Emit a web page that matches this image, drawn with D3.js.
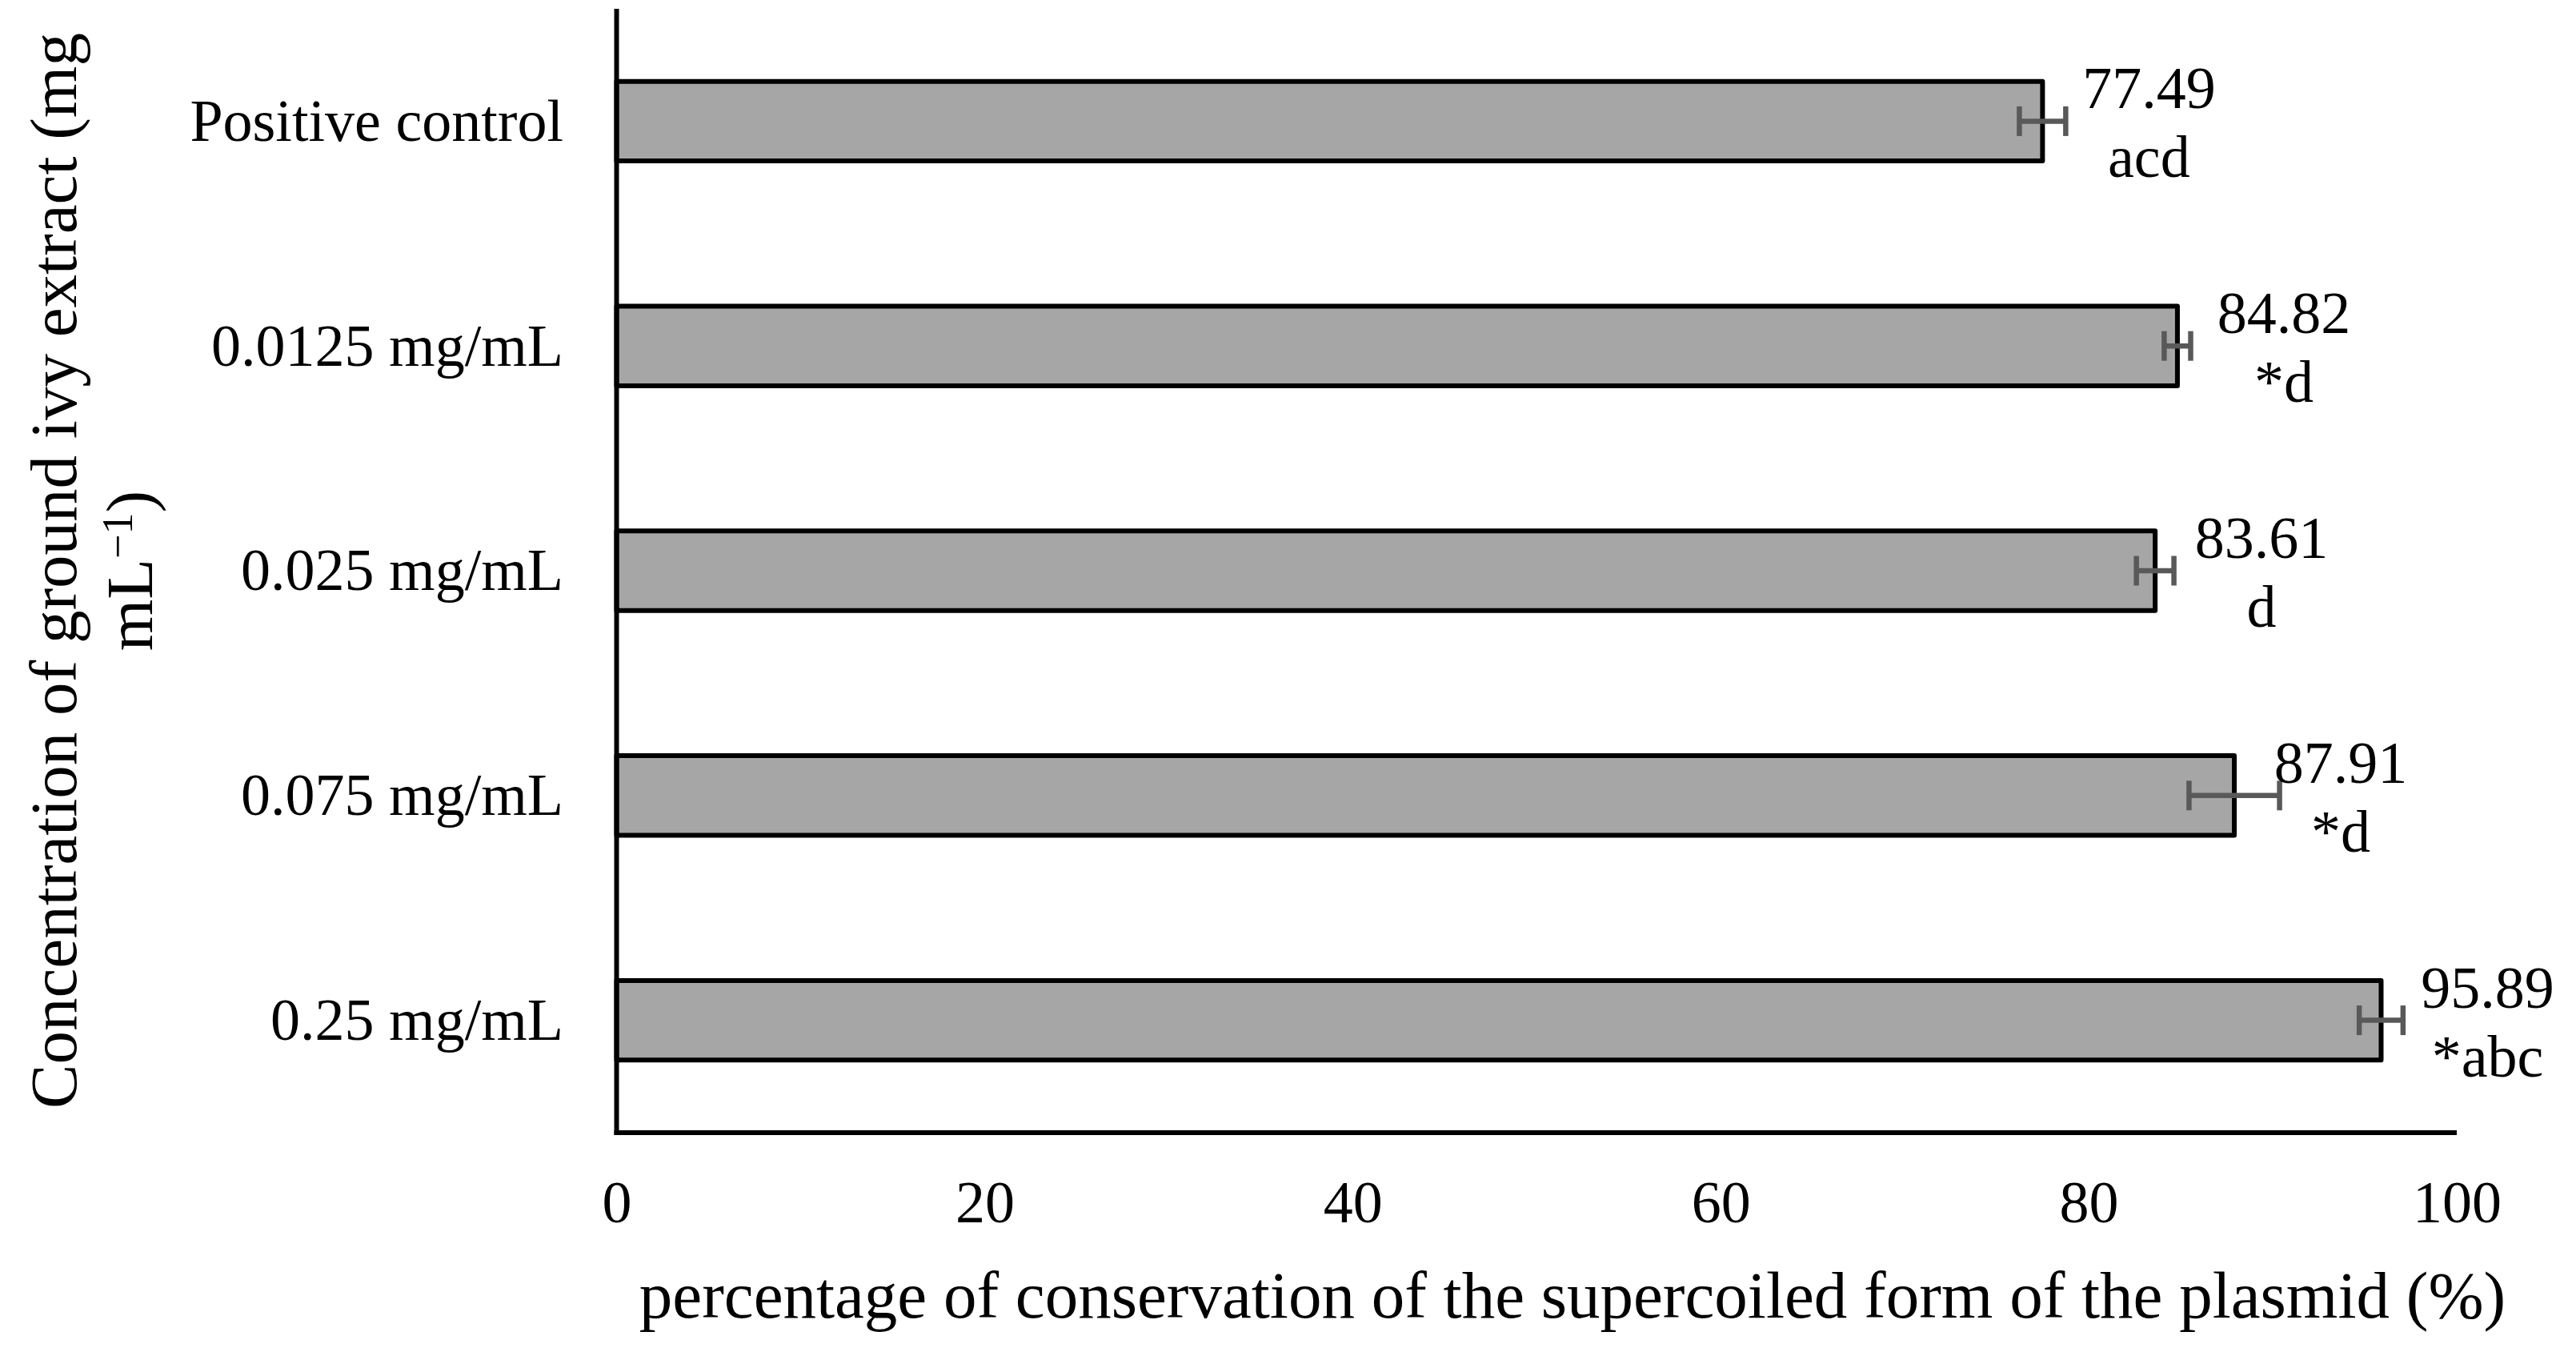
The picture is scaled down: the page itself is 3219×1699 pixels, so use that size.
<!DOCTYPE html>
<html>
<head>
<meta charset="utf-8">
<script src="https://cdn.jsdelivr.net/npm/d3@7"></script>
<style>
  html, body { margin: 0; padding: 0; background: #fff; }
  svg { display: block; }
  text { font-family: "Liberation Serif", "Times New Roman", serif; fill: #000; }
</style>
</head>
<body>
<svg id="chart" width="3219" height="1699"></svg>
<script>
const categories = ["Positive control", "0.0125 mg/mL", "0.025 mg/mL", "0.075 mg/mL", "0.25 mg/mL"];
const values = [77.49, 84.82, 83.61, 87.91, 95.89];
const errors = [1.26, 0.72, 1.02, 2.46, 1.19];
const letters = ["acd", "*d", "d", "*d", "*abc"];
const xTicks = [0, 20, 40, 60, 80, 100];
const xTitle = "percentage of conservation of the supercoiled form of the plasmid (%)";
const yTitleLine1 = "Concentration of ground ivy extract (mg";

const svg = d3.select("#chart");
const x0 = 770.5, x1 = 3070, yTop = 11, yBot = 1415;

const x = d3.scaleLinear().domain([0, 100]).range([x0, x1]);
const y = d3.scaleBand().domain(categories).range([yTop, yBot])
  .paddingInner(0.646).paddingOuter(0.323);

// bars
svg.append("g").selectAll("rect").data(values).join("rect")
  .attr("x", x(0))
  .attr("y", (d, i) => y(categories[i]))
  .attr("width", d => x(d) - x(0))
  .attr("height", y.bandwidth())
  .attr("fill", "#a6a6a6")
  .attr("stroke", "#000")
  .attr("stroke-width", 6)
  .attr("stroke-linejoin", "round");

// error bars
const eb = svg.append("g").attr("stroke", "#595959").attr("stroke-width", 6.5).attr("fill", "none");
values.forEach((v, i) => {
  const cy = y(categories[i]) + y.bandwidth() / 2;
  const lo = x(v - errors[i]), hi = x(v + errors[i]);
  eb.append("line").attr("x1", lo).attr("x2", hi).attr("y1", cy).attr("y2", cy);
  eb.append("line").attr("x1", lo).attr("x2", lo).attr("y1", cy - 18.5).attr("y2", cy + 18.5);
  eb.append("line").attr("x1", hi).attr("x2", hi).attr("y1", cy - 18.5).attr("y2", cy + 18.5);
});

// value labels
values.forEach((v, i) => {
  const cy = y(categories[i]) + y.bandwidth() / 2;
  const cx = x(v) + 133;
  svg.append("text").attr("x", cx).attr("y", cy - 16)
    .attr("text-anchor", "middle").attr("font-size", 74).text(v.toFixed(2));
  svg.append("text").attr("x", cx).attr("y", cy + 70)
    .attr("text-anchor", "middle").attr("font-size", 74).text(letters[i]);
});

// axes lines
svg.append("line").attr("x1", x0).attr("x2", x0).attr("y1", yTop).attr("y2", yBot + 3)
  .attr("stroke", "#000").attr("stroke-width", 6);
svg.append("line").attr("x1", x0 - 3).attr("x2", x1).attr("y1", yBot).attr("y2", yBot)
  .attr("stroke", "#000").attr("stroke-width", 6);

// x axis tick labels via d3 axis
const xAxis = d3.axisBottom(x).tickValues(xTicks).tickSize(0).tickPadding(0).tickFormat(d3.format("d"));
const gx = svg.append("g").attr("transform", `translate(0,${yBot})`).call(xAxis);
gx.select(".domain").remove();
gx.selectAll("text").attr("font-size", 74).attr("dy", null).attr("y", 112)
  .attr("font-family", '"Liberation Serif", "Times New Roman", serif').attr("fill", "#000");

// y axis category labels via d3 axis
const yAxis = d3.axisLeft(y).tickSize(0).tickPadding(0);
const gy = svg.append("g").attr("transform", `translate(704,0)`).call(yAxis);
gy.select(".domain").remove();
gy.selectAll("text").attr("font-size", 74).attr("dy", "0.33em").attr("x", 0)
  .attr("font-family", '"Liberation Serif", "Times New Roman", serif').attr("fill", "#000");

// x title
svg.append("text").attr("x", 1965).attr("y", 1646).attr("text-anchor", "middle")
  .attr("font-size", 83).text(xTitle);

// y title (two lines)
const cyMid = (yTop + yBot) / 2;
svg.append("text").attr("transform", `translate(95,${cyMid}) rotate(-90)`)
  .attr("text-anchor", "middle").attr("font-size", 83).text(yTitleLine1);
const t2 = svg.append("text").attr("transform", `translate(190,${cyMid}) rotate(-90)`)
  .attr("text-anchor", "middle").attr("font-size", 83);
t2.append("tspan").text("mL");
t2.append("tspan").attr("font-size", 54).attr("dy", -25).text("\u22121");
t2.append("tspan").attr("dy", 25).text(")");
</script>
</body>
</html>
